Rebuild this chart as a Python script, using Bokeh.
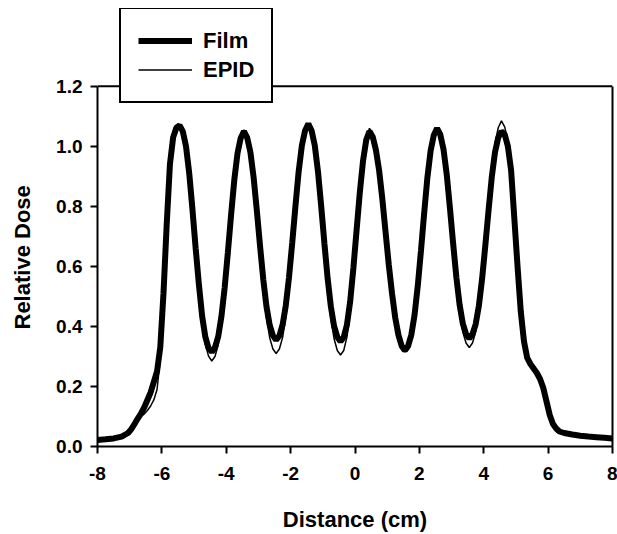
from bokeh.plotting import figure
from bokeh.models import Range1d, Legend, LegendItem, FixedTicker, LinearAxis, Span, Title
from bokeh.embed import file_html
from bokeh.resources import INLINE

x_cm = [
    -8.0, -7.75, -7.5, -7.25,
    -7.05, -6.95, -6.85, -6.75, -6.65, -6.55, -6.45, -6.35, -6.25, -6.15, -6.05, -5.95, -5.85, -5.75, -5.65, -5.55, -5.45,
    -5.35, -5.25, -5.15, -5.05, -4.95, -4.85, -4.75, -4.65, -4.55, -4.45,
    -4.35, -4.25, -4.15, -4.05, -3.95, -3.85, -3.75, -3.65, -3.55, -3.45,
    -3.35, -3.25, -3.15, -3.05, -2.95, -2.85, -2.75, -2.65, -2.55, -2.45,
    -2.35, -2.25, -2.15, -2.05, -1.95, -1.85, -1.75, -1.65, -1.55, -1.45,
    -1.35, -1.25, -1.15, -1.05, -0.95, -0.85, -0.75, -0.65, -0.55, -0.45,
    -0.35, -0.25, -0.15, -0.05, 0.05, 0.15, 0.25, 0.35, 0.45,
    0.55, 0.65, 0.75, 0.85, 0.95, 1.05, 1.15, 1.25, 1.35, 1.45, 1.55,
    1.65, 1.75, 1.85, 1.95, 2.05, 2.15, 2.25, 2.35, 2.45, 2.55,
    2.65, 2.75, 2.85, 2.95, 3.05, 3.15, 3.25, 3.35, 3.45, 3.55,
    3.65, 3.75, 3.85, 3.95, 4.05, 4.15, 4.25, 4.35, 4.45, 4.55,
    4.65, 4.75, 4.85, 4.95, 5.05, 5.15, 5.25, 5.35, 5.45, 5.55, 5.65, 5.75, 5.85, 5.95, 6.05, 6.15, 6.25, 6.35,
    6.5, 6.75, 7.0, 7.25, 7.5, 7.75, 8.0,
]

film = [
    0.022, 0.024, 0.027, 0.033,
    0.045, 0.058, 0.075, 0.093, 0.11, 0.13, 0.155, 0.18, 0.215, 0.25, 0.33, 0.51, 0.74, 0.94, 1.03, 1.062, 1.07,
    1.05, 1.00, 0.91, 0.79, 0.66, 0.54, 0.435, 0.365, 0.328, 0.315,
    0.330, 0.366, 0.433, 0.528, 0.646, 0.771, 0.888, 0.977, 1.028, 1.05,
    1.029, 0.981, 0.897, 0.786, 0.668, 0.557, 0.466, 0.404, 0.369, 0.355,
    0.369, 0.405, 0.470, 0.564, 0.679, 0.801, 0.917, 1.003, 1.053, 1.075,
    1.053, 1.003, 0.916, 0.800, 0.676, 0.560, 0.466, 0.401, 0.365, 0.350,
    0.364, 0.406, 0.483, 0.595, 0.721, 0.847, 0.952, 1.022, 1.05,
    1.032, 0.988, 0.919, 0.824, 0.714, 0.605, 0.510, 0.429, 0.371, 0.335, 0.32,
    0.335, 0.372, 0.438, 0.535, 0.653, 0.779, 0.897, 0.986, 1.038, 1.06,
    1.039, 0.990, 0.906, 0.794, 0.675, 0.563, 0.472, 0.409, 0.374, 0.36,
    0.374, 0.408, 0.470, 0.560, 0.671, 0.788, 0.898, 0.981, 1.029, 1.05,
    1.04, 1.0, 0.92, 0.76, 0.60, 0.45, 0.35, 0.295, 0.275, 0.26, 0.245, 0.225, 0.195, 0.15, 0.105, 0.075, 0.06, 0.05,
    0.045, 0.04, 0.036, 0.033, 0.031, 0.029, 0.027,
]

epid = [
    0.02, 0.022, 0.026, 0.033,
    0.045, 0.058, 0.074, 0.09, 0.10, 0.108, 0.12, 0.135, 0.155, 0.19, 0.29, 0.47, 0.72, 0.93, 1.025, 1.062, 1.07,
    1.046, 0.992, 0.897, 0.772, 0.638, 0.513, 0.411, 0.340, 0.301, 0.285,
    0.300, 0.339, 0.408, 0.508, 0.632, 0.762, 0.886, 0.978, 1.032, 1.055,
    1.033, 0.981, 0.891, 0.772, 0.645, 0.526, 0.429, 0.362, 0.325, 0.31,
    0.325, 0.363, 0.432, 0.530, 0.652, 0.781, 0.903, 0.994, 1.047, 1.07,
    1.047, 0.994, 0.902, 0.779, 0.649, 0.527, 0.427, 0.359, 0.320, 0.305,
    0.320, 0.365, 0.448, 0.569, 0.705, 0.841, 0.954, 1.030, 1.06,
    1.041, 0.997, 0.926, 0.829, 0.717, 0.606, 0.509, 0.427, 0.367, 0.330, 0.315,
    0.330, 0.367, 0.434, 0.531, 0.650, 0.777, 0.896, 0.986, 1.038, 1.06,
    1.038, 0.987, 0.899, 0.783, 0.658, 0.542, 0.447, 0.381, 0.345, 0.33,
    0.345, 0.383, 0.451, 0.549, 0.670, 0.798, 0.919, 1.010, 1.062, 1.085,
    1.065, 1.02, 0.935, 0.77, 0.60, 0.45, 0.35, 0.30, 0.28, 0.27, 0.25, 0.225, 0.19, 0.145, 0.10, 0.072, 0.057, 0.048,
    0.042, 0.036, 0.032, 0.03, 0.028, 0.026, 0.024,
]

x_ticks = [-8, -6, -4, -2, 0, 2, 4, 6, 8]
y_ticks = [0.0, 0.2, 0.4, 0.6, 0.8, 1.0, 1.2]
y_tick_labels = {0.0: "0.0", 0.2: "0.2", 0.4: "0.4", 0.6: "0.6", 0.8: "0.8", 1.0: "1.0", 1.2: "1.2"}
x_tick_labels = {-8: "-8", -6: "-6", -4: "-4", -2: "-2", 0: "0", 2: "2", 4: "4", 6: "6", 8: "8"}
series_names = ["Film", "EPID"]
x_title = "Distance (cm)"
y_title = "Relative Dose"

assert len(x_cm) == len(film) == len(epid)

FONT = "Liberation Sans"
Y_MIN, Y_MAX = y_ticks[0], y_ticks[-1]
# the frame reaches up above the legend box; the visible box ends at Y_MAX
FRAME_TOP = 8
FRAME_BOTTOM_BORDER = 87
frame_h = 534 - FRAME_TOP - FRAME_BOTTOM_BORDER
box_h = 447 - 86
y_end = Y_MAX * frame_h / box_h

p = figure(width=617, height=534, output_backend="svg", toolbar_location=None,
           x_range=Range1d(x_ticks[0], x_ticks[-1]), y_range=Range1d(Y_MIN, y_end),
           min_border_left=97, min_border_right=5, min_border_top=FRAME_TOP,
           min_border_bottom=FRAME_BOTTOM_BORDER)
p.background_fill_color = "white"
p.border_fill_color = "white"
p.outline_line_color = None
p.xgrid.visible = False
p.ygrid.visible = False

r_film = p.line(x_cm, film, line_color="black", line_width=6)
r_epid = p.line(x_cm, epid, line_color="black", line_width=1.5)

right_axis = LinearAxis(bounds=(Y_MIN, Y_MAX), ticker=FixedTicker(ticks=[]),
                        axis_line_width=2, axis_line_color="black",
                        major_tick_line_color=None, minor_tick_line_color=None,
                        major_label_text_color=None)
p.add_layout(right_axis, "right")

top_line = Span(location=Y_MAX, dimension="width", line_color="black", line_width=2)
p.add_layout(top_line)

for ax in (p.xaxis[0], p.yaxis[0]):
    ax.axis_line_width = 2
    ax.axis_line_color = "black"
    ax.major_tick_line_width = 2
    ax.major_tick_line_color = "black"
    ax.major_tick_out = 7
    ax.major_tick_in = 0
    ax.minor_tick_line_color = None
    ax.major_label_text_font = FONT
    ax.major_label_text_font_style = "bold"
    ax.major_label_text_font_size = "19px"
    ax.major_label_text_color = "black"
    ax.axis_label_text_font = FONT
    ax.axis_label_text_font_style = "bold"
    ax.axis_label_text_font_size = "22px"
    ax.axis_label_text_color = "black"

p.yaxis[0].bounds = (Y_MIN, Y_MAX)
p.xaxis[0].ticker = FixedTicker(ticks=x_ticks)
p.yaxis[0].ticker = FixedTicker(ticks=y_ticks)
p.yaxis[0].major_label_overrides = y_tick_labels
p.xaxis[0].major_label_overrides = x_tick_labels
p.xaxis[0].axis_label = x_title
p.xaxis[0].major_label_standoff = 13
p.xaxis[0].axis_label_standoff = 24
p.yaxis[0].major_label_standoff = 8

# invisible spacer axis (one hidden tick, empty label), pushes the y title outward
spacer = LinearAxis(ticker=FixedTicker(ticks=[Y_MIN]), axis_line_color=None,
                    major_tick_line_color=None, minor_tick_line_color=None,
                    major_tick_out=17, major_tick_in=0, major_label_standoff=0,
                    major_label_overrides={Y_MIN: ""}, major_label_text_color=None)
p.add_layout(spacer, "left")

# y-axis title centred on the visible box (0 .. 1.2), not on the taller frame
y_label = Title(text=y_title, align="left", offset=117, vertical_align="bottom",
                text_font=FONT, text_font_style="bold", text_font_size="22px",
                text_color="black", standoff=4)
p.add_layout(y_label, "left")

legend = Legend(items=[LegendItem(label=series_names[0], renderers=[r_film]),
                       LegendItem(label=series_names[1], renderers=[r_epid])],
                location=(22, 343))
legend.border_line_color = "black"
legend.border_line_alpha = 1.0
legend.border_line_width = 2
legend.background_fill_color = "white"
legend.background_fill_alpha = 1.0
legend.label_text_font = FONT
legend.label_text_font_style = "bold"
legend.label_text_font_size = "22px"
legend.label_text_color = "black"
legend.glyph_width = 54
legend.glyph_height = 29
legend.label_height = 29
legend.label_standoff = 11
legend.spacing = 0
legend.padding = 17
legend.margin = 0
p.add_layout(legend)

open("out.html", "w").write(file_html(p, INLINE))
